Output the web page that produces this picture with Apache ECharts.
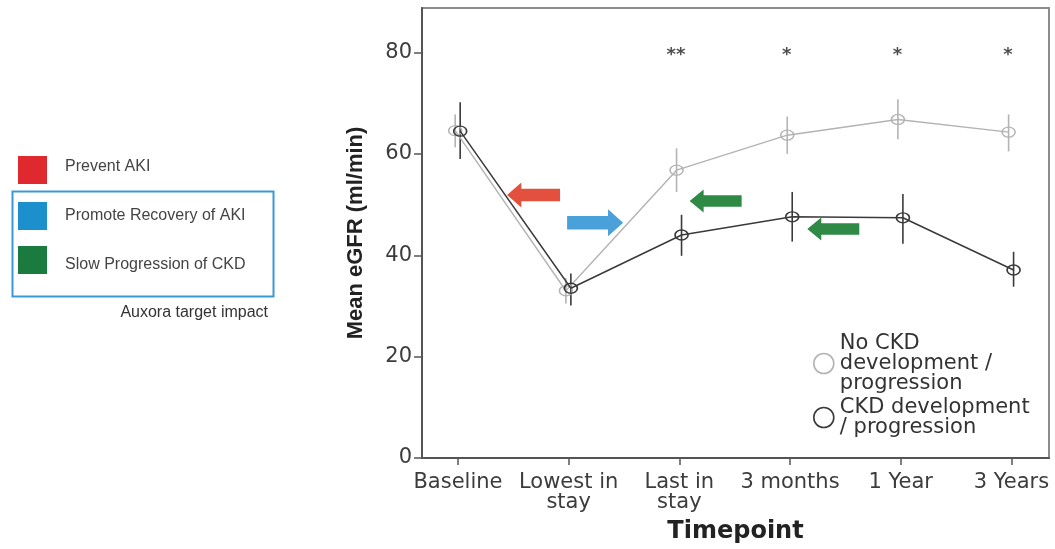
<!DOCTYPE html>
<html>
<head>
<meta charset="utf-8">
<script src="https://cdn.jsdelivr.net/npm/echarts@6/dist/echarts.min.js"></script>
<style>
html,body{margin:0;padding:0;background:#fff;}
#chart{width:1055px;height:549px;}
</style>
</head>
<body>
<div id="chart"></div>
<script>
// ---- data ----
const categories = ['Baseline', 'Lowest in\nstay', 'Last in\nstay', '3 months', '1 Year', '3 Years'];
const yTicks = [0, 20, 40, 60, 80];

const noCkdMean = [64.6, 33.0, 56.8, 63.7, 66.8, 64.3];
const noCkdLow  = [61.3, 30.5, 52.5, 60.0, 62.9, 60.5];
const noCkdHigh = [67.8, 35.5, 61.1, 67.4, 70.8, 67.8];

const ckdMean = [64.5, 33.5, 44.0, 47.6, 47.4, 37.1];
const ckdLow  = [59.0, 30.1, 39.9, 42.7, 42.3, 33.8];
const ckdHigh = [70.2, 36.4, 48.0, 52.5, 52.1, 40.7];

const starLabels = ['', '', '**', '*', '*', '*'];
const starLevel = 79.5;

// annotation arrows (x in category units, y in eGFR units)
const arrowType = ['Prevent AKI', 'Promote Recovery of AKI', 'Slow Progression of CKD', 'Slow Progression of CKD'];
const arrowX = [0.683, 1.239, 2.328, 3.391];
const arrowY = [51.9, 46.4, 50.7, 45.2];

const impactLabels = ['Prevent AKI', 'Promote Recovery of AKI', 'Slow Progression of CKD'];
const impactCaption = 'Auxora target impact';

const seriesNames = ['No CKD development / progression', 'CKD development / progression'];
const legendText = ['No CKD\ndevelopment /\nprogression', 'CKD development\n/ progression'];

// ---- styling ----
const LIGHT = '#b3b3b3';
const DARK = '#3a3a3a';
const arrowStyle = {
  'Prevent AKI': {color: '#e4503e', left: true, size: [53, 25]},
  'Promote Recovery of AKI': {color: '#4aa0d9', left: false, size: [56, 27]},
  'Slow Progression of CKD': {color: '#2f8a45', left: true, size: [52, 23]}
};
const squareColors = ['#e0282f', '#1c8fcd', '#1b7a3e'];
const ARROW_LEFT = 'path://M0 12 L14 0 L14 6 L52 6 L52 18 L14 18 L14 24 Z';
const ARROW_RIGHT = 'path://M52 12 L38 0 L38 6 L0 6 L0 18 L38 18 L38 24 Z';
const FONT = 'DejaVu Sans';

const idx = categories.map((c, i) => i);
const LIGHT_DX = -0.025, DARK_DX = 0.02;

function errSeries(name, low, high, dx, color) {
  return {
    type: 'custom',
    name: name + ' err',
    silent: true,
    z: 3,
    data: idx.map(i => [i + dx, low[i], high[i]]),
    renderItem: function (params, api) {
      const p1 = api.coord([api.value(0), api.value(1)]);
      const p2 = api.coord([api.value(0), api.value(2)]);
      return {type: 'line', shape: {x1: p1[0], y1: p1[1], x2: p2[0], y2: p2[1]},
              style: {stroke: color, lineWidth: 1.6}};
    }
  };
}

const chart = echarts.init(document.getElementById('chart'), null, {renderer: 'canvas'});

const option = {
  backgroundColor: '#ffffff',
  animation: false,
  grid: {left: 422, top: 8, width: 627, height: 452, show: true, borderColor: '#8c8c8c', borderWidth: 2, backgroundColor: 'transparent'},
  xAxis: {
    type: 'value', min: -0.325, max: 5.34,
    name: 'Timepoint', nameLocation: 'middle', nameGap: 62,
    nameTextStyle: {fontFamily: FONT, fontWeight: 'bold', fontSize: 24, color: '#222'},
    axisLine: {show: true, onZero: false, lineStyle: {color: '#555', width: 2}},
    axisTick: {show: true, length: 7, lineStyle: {color: '#555', width: 1.5}, customValues: idx},
    axisLabel: {customValues: idx, formatter: v => categories[Math.round(v)], fontFamily: FONT, fontSize: 21, lineHeight: 20, color: '#3c3c3c', margin: 15},
    splitLine: {show: false}
  },
  yAxis: {
    type: 'value', min: 0, max: 88.8,
    name: 'Mean eGFR (ml/min)', nameLocation: 'middle', nameGap: 55,
    nameTextStyle: {fontFamily: 'Liberation Sans', fontWeight: 'bold', fontSize: 22, color: '#222'},
    axisLine: {show: true, onZero: false, lineStyle: {color: '#555', width: 2}},
    axisTick: {show: true, length: 8, lineStyle: {color: '#555', width: 1.5}, customValues: yTicks},
    axisLabel: {customValues: yTicks, fontFamily: FONT, fontSize: 21, color: '#3c3c3c', margin: 10},
    splitLine: {show: false}
  },
  legend: {
    orient: 'vertical', left: 808, top: 328, itemGap: 3, itemWidth: 22, itemHeight: 20,
    icon: 'circle',
    formatter: n => legendText[seriesNames.indexOf(n)],
    textStyle: {fontFamily: FONT, fontSize: 21, lineHeight: 20, color: '#333'},
    data: [
      {name: seriesNames[0], itemStyle: {color: 'rgba(255,255,255,0)', borderColor: LIGHT, borderWidth: 1.6}},
      {name: seriesNames[1], itemStyle: {color: 'rgba(255,255,255,0)', borderColor: DARK, borderWidth: 1.6}}
    ]
  },
  series: [
    errSeries(seriesNames[0], noCkdLow, noCkdHigh, LIGHT_DX, LIGHT),
    {
      type: 'line', name: seriesNames[0], z: 4,
      data: idx.map(i => [i + LIGHT_DX, noCkdMean[i]]),
      symbol: 'circle', symbolSize: [13, 10],
      itemStyle: {color: 'rgba(255,255,255,0)', borderColor: LIGHT, borderWidth: 1.4},
      lineStyle: {color: LIGHT, width: 1.4}
    },
    errSeries(seriesNames[1], ckdLow, ckdHigh, DARK_DX, DARK),
    {
      type: 'line', name: seriesNames[1], z: 5,
      data: idx.map(i => [i + DARK_DX, ckdMean[i]]),
      symbol: 'circle', symbolSize: [13, 10],
      itemStyle: {color: 'rgba(255,255,255,0)', borderColor: DARK, borderWidth: 1.5},
      lineStyle: {color: DARK, width: 1.5}
    },
    {
      type: 'scatter', name: 'stars', silent: true,
      symbolSize: 1, itemStyle: {color: 'rgba(0,0,0,0)'},
      data: idx.filter(i => starLabels[i]).map(i => ({value: [i - 0.03, starLevel], label: {formatter: starLabels[i]}})),
      label: {show: true, position: 'inside', fontFamily: FONT, fontSize: 18, fontWeight: 'bold', color: '#222'}
    },
    {
      type: 'scatter', name: 'arrows', silent: true, z: 2,
      data: arrowX.map((x, k) => {
        const s = arrowStyle[arrowType[k]];
        return {value: [x, arrowY[k]], symbol: s.left ? ARROW_LEFT : ARROW_RIGHT, symbolSize: s.size,
                symbolKeepAspect: false, itemStyle: {color: s.color, opacity: 1}};
      })
    }
  ],
  graphic: [
    {type: 'rect', left: 10, top: 189, shape: {width: 261, height: 105}, style: {fill: 'none', stroke: '#3a9ad6', lineWidth: 2}},
    ...impactLabels.map((t, k) => ({
      type: 'rect', left: 18, top: [156, 202, 246][k], shape: {width: 29, height: 28},
      style: {fill: squareColors[k]}
    })),
    ...impactLabels.map((t, k) => ({
      type: 'text', left: 65, top: [168, 217, 266][k] - 9,
      style: {text: t, fontFamily: 'Liberation Sans', fontSize: 16, fill: '#444'}
    })),
    {type: 'text', right: 1055 - 268, top: 305, style: {text: impactCaption, fontFamily: 'Liberation Sans', fontSize: 16, fill: '#333'}}
  ]
};
chart.setOption(option);
</script>
</body>
</html>
